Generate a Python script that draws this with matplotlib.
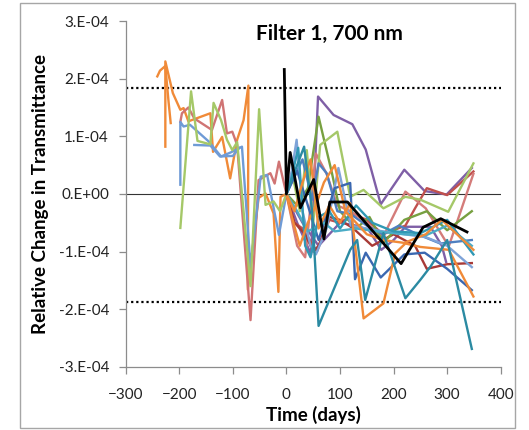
import matplotlib
matplotlib.use("Agg")
import matplotlib.pyplot as plt
from matplotlib.patches import Rectangle

# values are in units of 1e-4 (relative change), time in days
SCALE = 1e-4

# ---- pre-launch series ----
orange_a_days = [-241, -236, -226, -220, -216]
orange_a_vals = [2.04, 2.14, 2.22, 1.6, 1.23]

orange_b_days = [-226, -226, -212, -198, -192, -183, -142, -137, -120, -105, -92, -80, -71, -72, -52, -39, -24, -15, -11, 0]
orange_b_vals = [0.82, 2.30, 1.75, 1.46, 1.49, 1.26, 1.40, 0.73, 0.99, 0.27, 0.94, 1.28, 1.88, -1.66, -0.07, 0.01, -0.34, -1.70, -0.05, 0]

rose_pre_days = [-198, -195, -183, -172, -139, -120, -111, -101, -92, -67, -52, -30, -22, -14, 0]
rose_pre_vals = [1.25, 1.40, 1.50, 1.31, 1.11, 1.63, 1.05, 1.08, 0.85, -2.19, 0.24, 0.36, 0.18, 0.56, 0]

blue_pre_a_days = [-198, -198, -192, -180, -145, -122, -104, -83, -67, -48, -36, -14, 0]
blue_pre_a_vals = [0.16, 1.25, 1.17, 1.20, 0.91, 0.65, 0.72, 0.82, -1.26, 0.30, 0.33, -0.71, 0]

blue_pre_b_days = [-172, -142, -124, -100, -88]
blue_pre_b_vals = [0.85, 0.84, 0.65, 0.66, 0.80]

green_pre_days = [-198, -178, -166, -142, -136, -122, -111, -101, -92, -67, -51, -39, -24, -12, 0]
green_pre_vals = [-0.59, 1.78, 0.92, 0.86, 1.58, 1.28, 0.94, 0.76, 0.90, -1.60, 1.47, -0.19, -0.13, -0.30, 0]

# ---- post-launch series ----
teal1_days = [0, 20, 33, 48, 60, 119, 132, 147, 181, 222, 250, 269, 300, 346]
teal1_vals = [0, 0.5, 0.82, -0.3, -2.29, -0.97, -0.8, -1.84, -0.68, -1.81, -1.49, -1.26, -0.8, -2.69]

orange_p1_days = [0, 15, 30, 45, 60, 80, 100, 119, 144, 181, 203, 222, 250, 303, 349]
orange_p1_vals = [0, -0.3, 0.2, 0.6, -0.6, -0.2, -0.5, -0.16, -2.16, -1.9, -1.03, -0.86, -0.92, -0.97, -1.78]

orange_p2_days = [0, 10, 25, 40, 55, 70, 90, 110, 150, 180, 220, 260, 290, 349]
orange_p2_vals = [0, -0.4, -0.9, -0.5, -0.2, 0.2, 0.5, -0.3, -0.7, -0.8, -0.85, -0.7, -0.45, -0.97]

lgreen_days = [0, 12, 25, 38, 50, 63, 95, 119, 144, 181, 222, 250, 302, 349]
lgreen_vals = [0, 0.3, -0.3, 0.76, -0.5, 0.85, 1.08, -0.05, 0.07, -0.25, -0.05, -0.1, -0.31, 0.53]

dgreen_days = [0, 20, 40, 60, 85, 100, 130, 155, 181, 220, 262, 300, 346]
dgreen_vals = [0, -0.2, 0.1, 1.34, 0.36, -0.3, -0.6, -0.4, -0.85, -0.45, -0.3, -0.63, -0.3]

purple1_days = [0, 20, 46, 59, 88, 123, 148, 176, 220, 258, 299, 346]
purple1_vals = [0, -0.5, -1.05, 1.69, 1.37, 1.21, 0.77, -0.18, 0.42, 0.05, -0.01, 0.45]

purple2_days = [0, 30, 60, 100, 130, 154, 177, 200, 222, 269, 290, 298]
purple2_vals = [0, -0.5, -0.9, -0.5, -0.55, -0.63, -0.97, -0.8, -0.57, -0.57, -0.9, -1.18]

red_days = [0, 15, 30, 57, 80, 100, 125, 150, 180, 222, 240, 262, 300, 349]
red_vals = [0, -0.5, -0.6, -1.0, -0.45, -0.5, -0.35, -0.45, -0.7, -0.55, -0.25, 0.1, -0.02, 0.39]

rose_days = [0, 20, 35, 55, 75, 95, 120, 150, 180, 222, 260, 303, 349]
rose_vals = [0, -0.9, -1.1, 0.7, 0.35, -0.2, -0.3, -0.5, -0.75, 0.04, -0.25, -0.91, 0.35]

dred_days = [0, 15, 35, 50, 60, 80, 100, 125, 160, 200, 240, 262, 300, 346]
dred_vals = [0, -0.5, -0.7, -1.0, -0.9, -0.4, -0.45, -0.6, -0.9, -0.7, -0.9, -1.3, -1.22, -1.2]

dblue_days = [0, 20, 40, 60, 90, 119, 128, 148, 176, 220, 258, 300, 346]
dblue_vals = [0, 0.4, -0.2, -0.8, 0.1, 0.19, -1.48, -1.02, -1.45, -1.05, -1.02, -1.3, -1.67]

mblue_days = [0, 15, 30, 48, 60, 75, 95, 120, 150, 180, 210, 250, 287, 346]
mblue_vals = [0, 0.3, 0.6, -0.1, 0.53, 0.36, -0.3, -0.35, -0.55, -0.7, -0.55, -0.72, -0.86, -0.8]

lblue_days = [0, 10, 19, 30, 45, 55, 75, 97, 120, 150, 180, 220, 260, 300, 346]
lblue_vals = [0, 0.4, 0.94, -0.3, -0.9, -1.05, -0.6, 0.45, -0.55, -0.6, -0.65, -0.7, -0.75, -0.9, -1.27]

teal2_days = [0, 10, 22, 35, 45, 60, 80, 100, 130, 160, 200, 250, 300, 349]
teal2_vals = [0, 0.3, 0.8, -0.9, -1.1, -0.4, -0.3, -0.6, -0.2, -0.5, -0.65, -0.68, -0.45, -1.05]

aqua_days = [0, 20, 40, 70, 90, 130, 170, 220, 260, 300, 346]
aqua_vals = [0, -0.3, -0.65, -0.5, -0.65, -0.6, -0.65, -0.7, -0.72, -0.55, -0.9]

black_days = [-4, 0, 7, 26, 51, 70, 81, 114, 214, 255, 288, 337]
black_vals = [2.16, 0, 0.72, -0.24, 0.25, -0.78, -0.14, -0.14, -1.21, -0.58, -0.43, -0.66]

limit_upper = 1.84
limit_lower = -1.87

yticks = [3, 2, 1, 0, -1, -2, -3]
ytick_labels = ["3.E-04", "2.E-04", "1.E-04", "0.E+00", "-1.E-04", "-2.E-04", "-3.E-04"]
xticks = [-300, -200, -100, 0, 100, 200, 300, 400]

plt.rcParams['font.family'] = ['Lato', 'DejaVu Sans']

fig = plt.figure(figsize=(5.29, 4.30), dpi=100)
ax = fig.add_axes([0.2376, 0.147, 0.709, 0.804])

# outer chart frame
fig.patches.append(Rectangle((20 / 529, 2 / 430), 495 / 529, 425 / 430, transform=fig.transFigure,
                             fill=False, edgecolor='#a6a6a6', linewidth=1.0))

ax.axhline(0, color='#333333', linewidth=0.8, zorder=1)
ax.axhline(limit_upper * SCALE, color='black', linewidth=1.6, linestyle=(0, (1, 1.3)), zorder=1)
ax.axhline(limit_lower * SCALE, color='black', linewidth=1.6, linestyle=(0, (1, 1.3)), zorder=1)

series = [
    (orange_a_days, orange_a_vals, '#F08A38'),
    (orange_b_days, orange_b_vals, '#F08A38'),
    (rose_pre_days, rose_pre_vals, '#D07474'),
    (blue_pre_a_days, blue_pre_a_vals, '#6F9BD6'),
    (blue_pre_b_days, blue_pre_b_vals, '#6F9BD6'),
    (green_pre_days, green_pre_vals, '#A5C868'),
    (purple1_days, purple1_vals, '#7F5FA6'),
    (purple2_days, purple2_vals, '#7F5FA6'),
    (red_days, red_vals, '#C0504D'),
    (rose_days, rose_vals, '#D47C7A'),
    (dred_days, dred_vals, '#A83A37'),
    (dgreen_days, dgreen_vals, '#77A040'),
    (lgreen_days, lgreen_vals, '#A5C868'),
    (mblue_days, mblue_vals, '#4F7FC0'),
    (lblue_days, lblue_vals, '#7EA3D8'),
    (dblue_days, dblue_vals, '#3A67B0'),
    (aqua_days, aqua_vals, '#4BACC6'),
    (teal2_days, teal2_vals, '#3098B4'),
    (orange_p2_days, orange_p2_vals, '#F08A38'),
    (orange_p1_days, orange_p1_vals, '#F08A38'),
    (teal1_days, teal1_vals, '#2B8AA2'),
]
for d, v, c in series:
    ax.plot(d, [x * SCALE for x in v], color=c, linewidth=1.7, zorder=2)

ax.plot(black_days, [x * SCALE for x in black_vals], color='black', linewidth=2.0, zorder=3)

ax.set_xlim(-300, 400)
ax.set_ylim(-3e-4, 3e-4)
ax.set_xticks(xticks)
ax.set_yticks([t * SCALE for t in yticks])
ax.set_yticklabels(ytick_labels)

for s in ['top', 'right']:
    ax.spines[s].set_visible(False)
for s in ['left', 'bottom']:
    ax.spines[s].set_color('#8c8c8c')
    ax.spines[s].set_linewidth(0.9)
ax.tick_params(axis='both', direction='out', length=5, width=0.9, color='#8c8c8c',
               labelsize=11, labelcolor='#222222')
ax.tick_params(axis='y', pad=7)
ax.tick_params(axis='x', pad=10)

ax.set_xlabel("Time (days)", fontsize=13.5, fontweight='bold', labelpad=3)
ax.set_ylabel("Relative Change in Transmittance", fontsize=13.5, fontweight='bold', labelpad=7)
ax.text(0.542, 0.962, "Filter 1, 700 nm", transform=ax.transAxes, ha='center', va='center',
        fontsize=15, fontweight='bold')

fig.savefig("out.png", dpi=100)
